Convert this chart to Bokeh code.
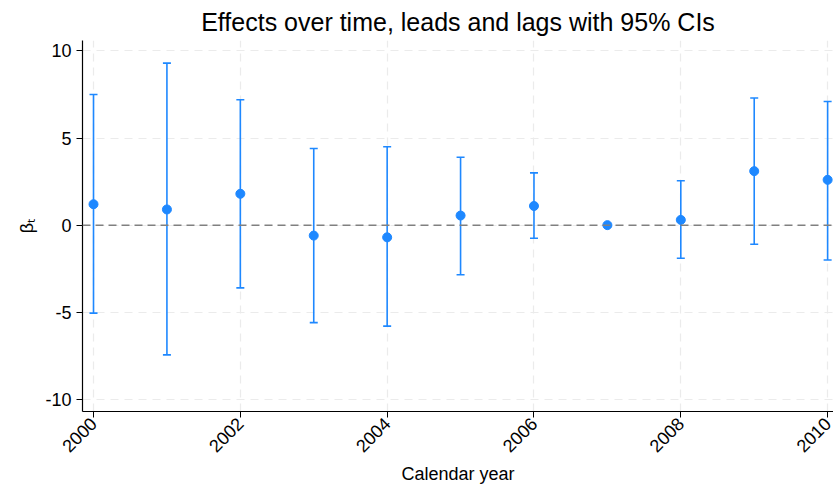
import math
from bokeh.plotting import figure
from bokeh.models import ColumnDataSource, Whisker, TeeHead, Span, Range1d, FixedTicker, CustomJSTickFormatter
from bokeh.embed import file_html
from bokeh.resources import INLINE

years = [2000, 2001, 2002, 2003, 2004, 2005, 2006, 2007, 2008, 2009, 2010]
estimates = [1.2, 0.9, 1.8, -0.6, -0.7, 0.55, 1.1, 0.0, 0.3, 3.1, 2.6]
ci_upper = [7.5, 9.3, 7.2, 4.4, 4.5, 3.9, 3.0, 0.0, 2.55, 7.3, 7.1]
ci_lower = [-5.05, -7.45, -3.6, -5.6, -5.8, -2.85, -0.75, 0.0, -1.9, -1.1, -2.0]
x_ticks = [2000, 2002, 2004, 2006, 2008, 2010]
y_ticks = [-10, -5, 0, 5, 10]

blue = "#1E88FF"
font = "Liberation Sans"

src = ColumnDataSource(dict(x=years, y=estimates, upper=ci_upper, lower=ci_lower))
ci_src = ColumnDataSource(dict(
    x=[x for x, u, l in zip(years, ci_upper, ci_lower) if u != l],
    upper=[u for u, l in zip(ci_upper, ci_lower) if u != l],
    lower=[l for u, l in zip(ci_upper, ci_lower) if u != l],
))

p = figure(width=833, height=487, output_backend="svg", toolbar_location=None,
           x_range=Range1d(1999.85, 2010.08), y_range=Range1d(-10.7, 10.6),
           min_border_left=82, min_border_right=0, min_border_top=0, min_border_bottom=0)

p.title.text = "Effects over time, leads and lags with 95% CIs"
p.title.align = "center"
p.title.text_font = font
p.title.text_font_size = "25px"
p.title.text_font_style = "normal"
p.title.text_color = "black"

p.outline_line_color = None
p.background_fill_color = "white"
p.border_fill_color = "white"

for ax in (p.xaxis[0], p.yaxis[0]):
    ax.axis_line_color = "black"
    ax.axis_line_width = 1.2
    ax.major_tick_line_color = "black"
    ax.major_tick_out = 6
    ax.major_tick_in = 0
    ax.minor_tick_line_color = None
    ax.major_label_text_font = font
    ax.major_label_text_font_size = "18px"
    ax.major_label_text_color = "black"
    ax.axis_label_text_font = font
    ax.axis_label_text_font_size = "18px"
    ax.axis_label_text_font_style = "normal"
    ax.axis_label_text_color = "black"
    ax.formatter = CustomJSTickFormatter(code="return String(tick);")

p.xaxis.major_label_standoff = 3
p.xaxis.axis_label_standoff = 3
p.xaxis.ticker = FixedTicker(ticks=x_ticks)
p.yaxis.ticker = FixedTicker(ticks=y_ticks)
p.xaxis.major_label_orientation = math.pi / 4
p.xaxis.axis_label = "Calendar year"
p.yaxis.axis_label = "βₜ"
p.yaxis.major_label_orientation = "horizontal"

for g in (p.xgrid[0], p.ygrid[0]):
    g.grid_line_color = "#EBEBEB"
    g.grid_line_dash = "8 6"
    g.grid_line_width = 1.2

p.add_layout(Span(location=0, dimension="width", line_color="#808080",
                  line_dash="8 5", line_width=1.5))

w = Whisker(source=ci_src, base="x", upper="upper", lower="lower",
            line_color=blue, line_width=1.6,
            upper_head=TeeHead(size=8, line_color=blue, line_width=1.6),
            lower_head=TeeHead(size=8, line_color=blue, line_width=1.6))
p.add_layout(w)

p.scatter("x", "y", source=src, size=9, color=blue)

open("out.html", "w").write(file_html(p, INLINE))
